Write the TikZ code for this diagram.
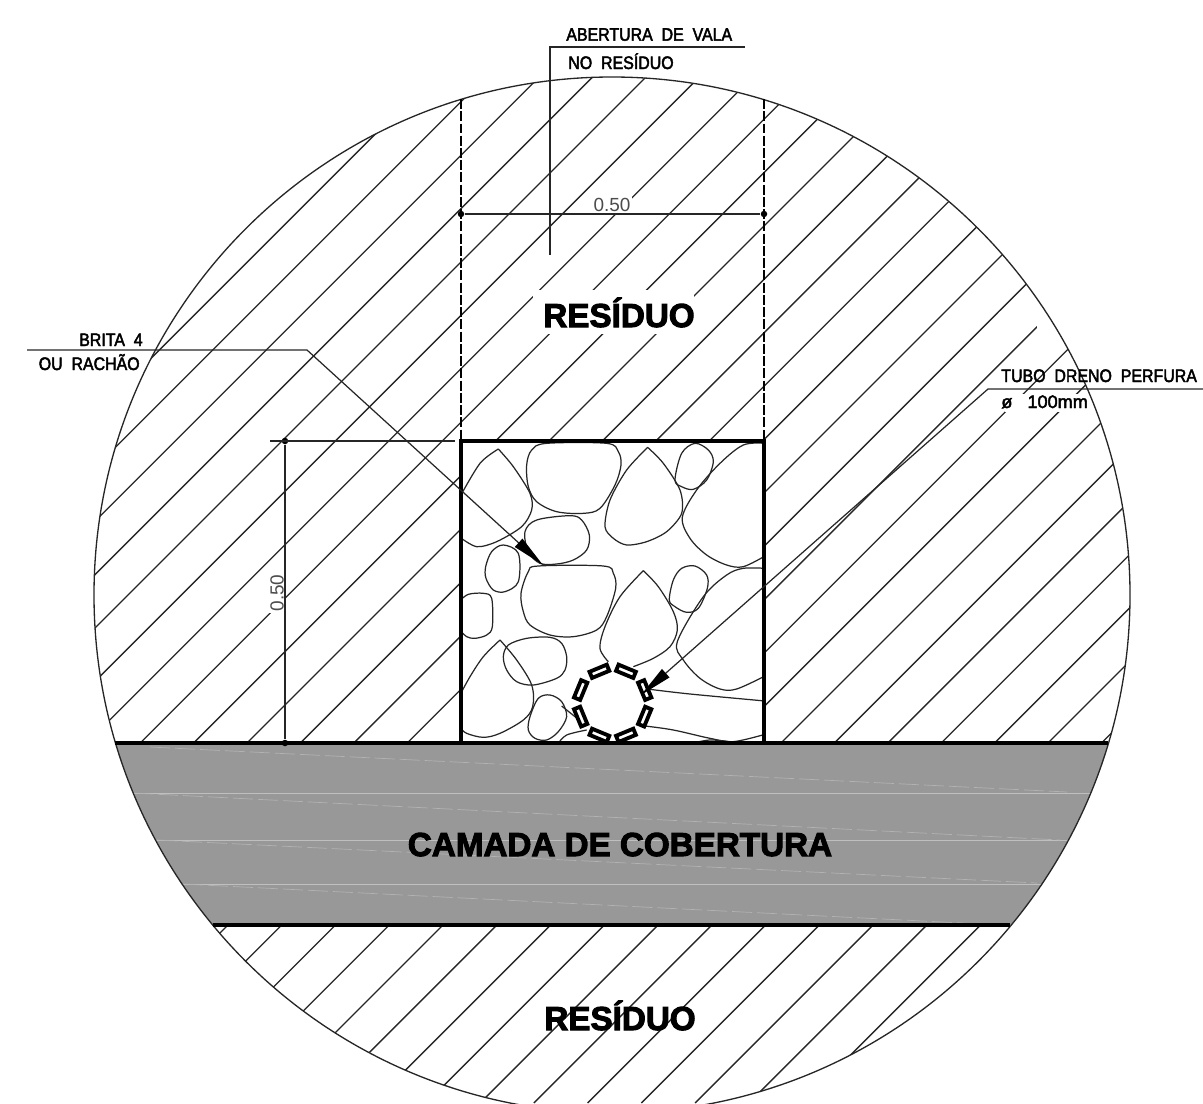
\documentclass[tikz,border=0pt]{standalone}
\usepackage{fontspec}
\usetikzlibrary{arrows.meta}
\newfontfamily\cadfont[FakeStretch=0.88,FakeBold=2.5]{Liberation Sans}
\newfontfamily\cadwide[FakeBold=2.5]{Liberation Sans}
\newfontfamily\heavyfont[FakeBold=3]{Liberation Sans}
\newfontfamily\dimfont{Liberation Sans}
\definecolor{cover}{HTML}{989898}
\tikzset{>={Triangle[length=0.66cm,width=0.22cm,color=black]}}
\tikzset{
  hatch/.style={color=black!85,line width=0.75},
  wall/.style={line width=1.8},
  trench/.style={line width=1.6,dash pattern=on 0.2cm off 0.045cm},
  thinline/.style={color=black!85,line width=0.7},
  stone/.style={color=black!85,line width=0.7},
  pipeseg/.style={draw=black,fill=white,line width=2.2},
  tag/.style={font=\cadfont\fontsize{10.3}{10}\selectfont,inner sep=0},
  tagwide/.style={font=\cadwide\fontsize{10.3}{10}\selectfont,inner sep=0},
  heading/.style={font=\heavyfont\bfseries\fontsize{18.9}{19}\selectfont,inner sep=0},
  dimtext/.style={font=\dimfont\fontsize{10.8}{11}\selectfont,color=black!70,inner sep=0},
  dimdot/.style={circle,fill=black,inner sep=0,minimum size=0.13cm},
}

\begin{document}
\begin{tikzpicture}[x=0.02cm,y=-0.02cm]
\useasboundingbox (0,0) rectangle (1203,1103);

% hatching and cover layer, all inside the detail circle
\begin{scope}
\clip (612,595) circle[radius=518];
\begin{scope}
\clip (0,0) rectangle (1203,743);
\foreach \k in {-4,...,21}
  \draw[hatch] ({723+53.4*\k-743},743)--({723+53.4*\k},0);
\end{scope}
\begin{scope}
\clip (0,925) rectangle (1203,1103);
\foreach \k in {0,...,14}
  \draw[hatch] ({1153+53.76*\k-1103},1103)--({1153+53.76*\k-925},925);
\end{scope}
\fill[cover] (0,743) rectangle (1203,925);
\foreach \ya in {793,840,884}
  \draw[color=black!25,line width=0.4] (0,\ya)--(1203,\ya);
\foreach \ya/\xa/\xb/\yb in {747/150/1067/792,793/133/1060/840,840/157/1037/883,884/183/963/923}
  \draw[color=black!30,line width=0.4,dash pattern=on 0.4cm off 0.1cm] (\xa,\ya)--(\xb,\yb);
\end{scope}

% gaps left in the hatching
\fill[white] (533,290) rectangle (694,334);
\fill[white] (592,197) rectangle (632,213);
\fill[white] (268,572) rectangle (285,613);
\fill[white] (1005,394) rectangle (1090,412);
\fill[white] (1037,300) rectangle (1060,329);
\fill[white] (461,441) rectangle (764,743);
\draw[white,line width=1.2] (999,314)--(1001,312);

\draw[color=black!85,line width=0.75] (612,595) circle[radius=518];

% stones in the trench
\begin{scope}
\clip (461,441) rectangle (764,743);
\begin{scope}[shift={(450,430)},x=0.00667cm,y=-0.00667cm]
\draw[stone] plot[smooth] coordinates {(30,200) (90,100) (145,57)} plot[smooth] coordinates {(145,57) (190,110) (240,190) (245,240) (215,290) (140,335) (80,350) (30,322)};
\draw[stone] plot[smooth cycle,tension=0.55] coordinates {(230,105) (245,60) (290,40) (470,40) (505,65) (513,105) (495,165) (450,235) (400,250) (320,245) (260,215) (235,170)};
\draw[stone] plot[smooth] coordinates {(593,52) (530,120) (480,210) (465,290) (490,325) (530,345) (590,335) (650,305) (695,250) (690,180) (640,100) (593,52)};
\draw[stone] plot[smooth cycle,tension=0.55] coordinates {(675,150) (695,70) (735,40) (775,60) (790,95) (770,150) (730,178) (695,170)};
\draw[stone] plot[smooth,tension=0.55] coordinates {(945,40) (880,45) (810,100) (740,180) (697,262) (720,325) (770,375) (830,405) (880,410) (945,378)};
\draw[stone] plot[smooth cycle,tension=0.55] coordinates {(225,305) (260,270) (360,257) (395,270) (418,315) (410,360) (370,390) (320,402) (270,400) (235,365)};
\draw[stone] plot[smooth cycle,tension=0.55] coordinates {(107,410) (125,365) (160,345) (205,370) (205,455) (165,485) (130,480) (108,445)};
\draw[stone] plot[smooth cycle,tension=0.55] coordinates {(213,490) (235,425) (265,408) (460,408) (490,430) (497,475) (470,560) (440,600) (370,620) (300,615) (240,585) (220,545)};
\draw[stone] plot[smooth,tension=0.55] coordinates {(30,512) (55,493) (100,490) (125,505) (127,590) (110,615) (75,625) (50,620) (30,600)};
\draw[stone] plot[smooth,tension=0.55] coordinates {(475,695) (450,655) (465,590) (510,500) (580,422)} plot[smooth,tension=0.55] coordinates {(580,422) (625,470) (670,545) (682,600) (660,650) (610,685) (550,710)};
\draw[stone] plot[smooth cycle,tension=0.55] coordinates {(658,510) (670,450) (695,415) (735,408) (770,435) (772,475) (745,535) (710,547) (675,530)};
\draw[stone] plot[smooth,tension=0.55] coordinates {(945,415) (880,415) (830,435) (760,500) (682,635) (700,690) (750,745) (810,777) (860,777) (945,738)};
\draw[stone] plot[smooth,tension=0.55] coordinates {(600,778) (720,792) (945,813)};
\draw[stone] plot[smooth,tension=0.55] coordinates {(585,888) (670,900) (780,925) (850,935) (945,913)};
\draw[stone] plot[smooth,tension=0.55] coordinates {(725,940) (780,930) (840,935)};
\draw[stone] plot[smooth,tension=0.55] coordinates {(30,795) (60,740) (100,680) (150,630)} plot[smooth,tension=0.55] coordinates {(150,630) (200,690) (245,765) (248,830) (220,870) (150,910) (100,922) (50,910) (30,893)};
\draw[stone] plot[smooth cycle,tension=0.55] coordinates {(160,680) (175,645) (230,625) (300,622) (335,640) (350,680) (345,720) (320,745) (250,765) (200,755) (170,720)};
\draw[stone] plot[smooth cycle,tension=0.55] coordinates {(240,860) (265,805) (300,795) (335,815) (350,860) (325,905) (290,930) (255,925) (235,900)};
\draw[stone] (335,828)--(385,868);
\draw[stone] plot[smooth,tension=0.55] coordinates {(325,940) (350,915) (410,900)};
% drain pipe
\foreach \a in {22.5,67.5,...,337.5}
  \draw[pipeseg,rotate around={\a:(488,820)}] (460,706) rectangle (516,726);
\end{scope}
\end{scope}

% trench walls and layer limits
\coordinate (trenchA) at (461,99);
\coordinate (trenchB) at (764,99);
\coordinate (boxA) at (461,441);
\coordinate (boxB) at (764,441);
\coordinate (boxC) at (461,743);
\coordinate (boxD) at (764,743);
\coordinate (coverA) at (115,743);
\coordinate (coverB) at (1108,743);
\coordinate (coverC) at (213,925);
\coordinate (coverD) at (1010,925);
\draw[trench] (trenchA)--(boxA);
\draw[trench] (trenchB)--(boxB);
\draw[wall] (boxC)--(boxA)--(boxB)--(boxD);
\draw[wall] (coverA)--(coverB);
\draw[wall] (coverC)--(coverD);

% dimensions
\node[dimdot] (dimA) at (461,214) {};
\node[dimdot] (dimB) at (764,214) {};
\node[dimdot] (dimC) at (285,441) {};
\node[dimdot] (dimD) at (285,743) {};
\coordinate (dimE) at (270,441);
\coordinate (dimF) at (455,441);
\draw[thinline] (dimA)--(dimB);
\draw[thinline] (dimE)--(dimF);
\draw[thinline] (dimC)--(dimD);
\node[dimtext] (widthlabel) at (612,205) {0.50};
\node[dimtext,rotate=90] (depthlabel) at (277,593) {0.50};

% leaders
\coordinate (openA) at (745,47);
\coordinate (openB) at (550,47);
\coordinate (openC) at (550,255);
\draw[thinline] (openA)--(openB)--(openC);
\coordinate (stoneA) at (27,350);
\coordinate (stoneB) at (307,350);
\coordinate (stoneC) at (543,565);
\draw[thinline,->] (stoneA)--(stoneB)--(stoneC);
\coordinate (drainA) at (1203,389);
\coordinate (drainB) at (988,389);
\coordinate (drainC) at (641,695);
\draw[thinline,->] (drainA)--(drainB)--(drainC);

% texts
\node[tag,anchor=base west] (opentop) at (566,40.7) {ABERTURA\ \ DE\ \ VALA};
\node[tag,anchor=base west] (openbot) at (568,69) {NO\ \ RESÍDUO};
\node[tag,anchor=base east] (stonetop) at (143,346) {BRITA\ \ 4};
\node[tag,anchor=base east] (stonebot) at (140,370) {OU\ \ RACHÃO};
\node[tag,anchor=base west] (draintop) at (1001,382) {TUBO\ \ DRENO\ \ PERFURA};
\node[tagwide,anchor=base west] (drainbot) at (1001,408) {ø\ \ \ 100mm};
\node[heading,anchor=base] (upperwaste) at (619,327) {RESÍDUO};
\node[heading,anchor=base] (coverlabel) at (620,856) {CAMADA DE COBERTURA};
\node[heading,anchor=base] (lowerwaste) at (620,1030) {RESÍDUO};

\end{tikzpicture}
\end{document}
